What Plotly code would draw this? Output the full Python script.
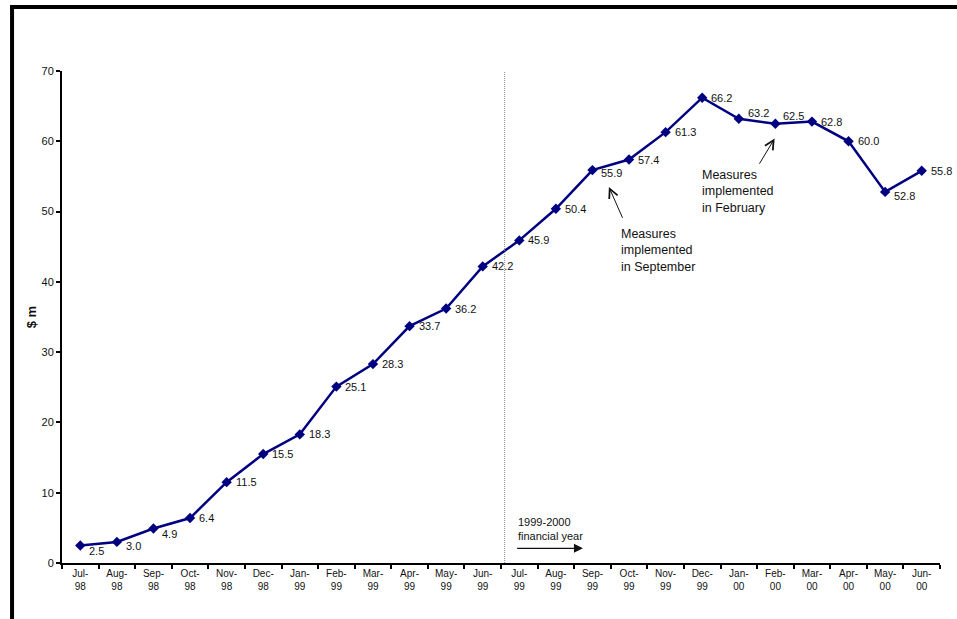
import plotly.graph_objects as go

# Monthly values, $ million, July 1998 to June 2000
months = ["Jul-98", "Aug-98", "Sep-98", "Oct-98", "Nov-98", "Dec-98",
          "Jan-99", "Feb-99", "Mar-99", "Apr-99", "May-99", "Jun-99",
          "Jul-99", "Aug-99", "Sep-99", "Oct-99", "Nov-99", "Dec-99",
          "Jan-00", "Feb-00", "Mar-00", "Apr-00", "May-00", "Jun-00"]
values = [2.5, 3.0, 4.9, 6.4, 11.5, 15.5, 18.3, 25.1, 28.3, 33.7, 36.2, 42.2,
          45.9, 50.4, 55.9, 57.4, 61.3, 66.2, 63.2, 62.5, 62.8, 60.0, 52.8, 55.8]
y_ticks = [0, 10, 20, 30, 40, 50, 60, 70]

FONT = "Liberation Sans, Arial, sans-serif"
NAVY = "#000080"

xs = list(range(len(months)))
tick_text = [m.replace("-", "-<br>") for m in months]

fig = go.Figure()
fig.add_trace(go.Scatter(
    x=xs, y=values, mode="lines+markers",
    line=dict(color=NAVY, width=2.5),
    marker=dict(symbol="diamond", size=8, color=NAVY),
    hoverinfo="skip", showlegend=False,
))

# value labels: (xshift, yshift) tweaks per point, default to the right
label_shift = {0: (7, -6), 1: (7, -4), 2: (7, -5), 14: (7, -3),
               18: (7, 6), 19: (6, 8), 22: (7, -4)}
annotations = []
for i, v in enumerate(values):
    dx, dy = label_shift.get(i, (7, 0))
    annotations.append(dict(
        x=i, y=v, xref="x", yref="y", text=f"{v:.1f}", showarrow=False,
        xanchor="left", yanchor="middle", xshift=dx, yshift=dy,
        font=dict(family=FONT, size=11, color="#111"),
    ))

# notes with arrows
note_font = dict(family=FONT, size=12.5, color="#111")
annotations += [
    dict(x=14.73, y=44.4, xref="x", yref="y", showarrow=False,
         text="Measures<br>implemented<br>in September", align="left",
         xanchor="left", yanchor="middle", font=note_font),
    dict(x=14.45, y=53.5, ax=14.84, ay=48.9, xref="x", yref="y",
         axref="x", ayref="y", text="", showarrow=True, arrowhead=5,
         arrowsize=1.8, arrowwidth=1, arrowcolor="#111"),
    dict(x=16.95, y=52.9, xref="x", yref="y", showarrow=False,
         text="Measures<br>implemented<br>in February", align="left",
         xanchor="left", yanchor="middle", font=note_font),
    dict(x=18.98, y=60.4, ax=18.54, ay=56.6, xref="x", yref="y",
         axref="x", ayref="y", text="", showarrow=True, arrowhead=5,
         arrowsize=1.8, arrowwidth=1, arrowcolor="#111"),
    dict(x=11.9, y=4.85, xref="x", yref="y", showarrow=False,
         text="1999-2000<br>financial year", align="left",
         xanchor="left", yanchor="middle",
         font=dict(family=FONT, size=11, color="#111")),
    dict(x=13.74, y=2.09, ax=11.9, ay=2.09, xref="x", yref="y",
         axref="x", ayref="y", text="", showarrow=True, arrowhead=2,
         arrowsize=1.5, arrowwidth=1.2, arrowcolor="#111"),
]

shapes = [
    # financial-year divider
    dict(type="line", xref="x", yref="y", x0=11.6, x1=11.6, y0=0, y1=71.8,
         line=dict(color="#888", width=1, dash="1px,1px")),
    # frame around the chart
    dict(type="line", xref="paper", yref="paper", x0=-0.0569, x1=-0.0569,
         y0=-0.13, y1=1.134, line=dict(color="black", width=4)),
    dict(type="line", xref="paper", yref="paper", x0=-0.0592, x1=1.03,
         y0=1.1301, y1=1.1301, line=dict(color="black", width=4)),
]

fig.update_layout(
    width=957, height=619,
    margin=dict(l=62, r=17, t=71, b=56),
    paper_bgcolor="white", plot_bgcolor="white",
    font=dict(family=FONT, color="#111"),
    annotations=annotations, shapes=shapes,
    xaxis=dict(
        range=[-0.5, 23.5], tickmode="array", tickvals=xs, ticktext=tick_text,
        ticks="", showline=True, linecolor="black", linewidth=2,
        showgrid=False, zeroline=False, tickfont=dict(size=10, family=FONT),
        minor=dict(ticks="outside", tickmode="linear", tick0=-0.5, dtick=1,
                   ticklen=4, tickwidth=2, tickcolor="black", showgrid=False),
    ),
    yaxis=dict(
        range=[0, 70], tickmode="array", tickvals=y_ticks,
        ticks="outside", ticklen=4, tickwidth=2, tickcolor="black",
        showline=True, linecolor="black", linewidth=2,
        showgrid=False, zeroline=False, tickfont=dict(size=11, family=FONT),
        title=dict(text="<b>$ m</b>", font=dict(size=13, family=FONT),
                   standoff=2),
    ),
)

fig.write_html("out.html")
